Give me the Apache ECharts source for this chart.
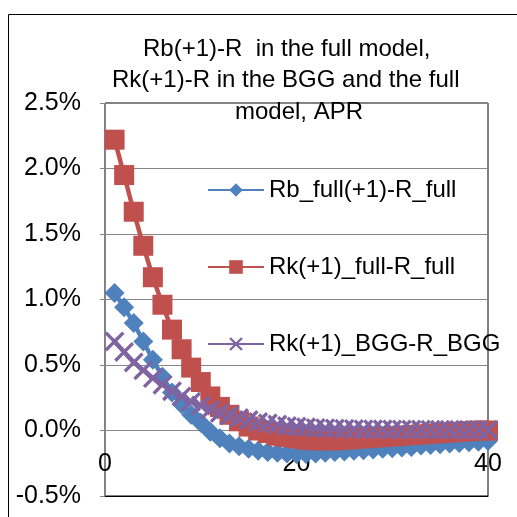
<!DOCTYPE html>
<html>
<head>
<meta charset="utf-8">
<script src="https://cdn.jsdelivr.net/npm/echarts@6/dist/echarts.min.js"></script>
<style>
html,body{margin:0;padding:0;background:#fff;}
#c{width:517px;height:517px;}
</style>
</head>
<body>
<div id="c"></div>
<script>
var titleLines = ['Rb(+1)-R  in the full model,', 'Rk(+1)-R in the BGG and the full', 'model, APR'];
var seriesNames = ['Rb_full(+1)-R_full', 'Rk(+1)_full-R_full', 'Rk(+1)_BGG-R_BGG'];
var periods = [1,2,3,4,5,6,7,8,9,10,11,12,13,14,15,16,17,18,19,20,21,22,23,24,25,26,27,28,29,30,31,32,33,34,35,36,37,38,39,40];
var rbFull = [1.05, 0.94, 0.82, 0.68, 0.54, 0.41, 0.29, 0.20, 0.12, 0.06, -0.01, -0.06, -0.10, -0.12, -0.14, -0.155, -0.165, -0.17, -0.175, -0.18, -0.18, -0.175, -0.17, -0.165, -0.16, -0.155, -0.15, -0.145, -0.14, -0.135, -0.13, -0.125, -0.115, -0.11, -0.105, -0.10, -0.095, -0.09, -0.085, -0.08];
var rkFull = [2.22, 1.95, 1.67, 1.41, 1.17, 0.96, 0.77, 0.62, 0.48, 0.37, 0.26, 0.18, 0.12, 0.07, 0.03, 0.00, -0.02, -0.04, -0.05, -0.06, -0.07, -0.075, -0.075, -0.075, -0.07, -0.065, -0.06, -0.055, -0.05, -0.045, -0.04, -0.035, -0.03, -0.025, -0.02, -0.015, -0.01, -0.005, 0.0, 0.0];
var rkBGG = [0.68, 0.60, 0.52, 0.46, 0.40, 0.35, 0.30, 0.26, 0.22, 0.19, 0.16, 0.135, 0.115, 0.095, 0.08, 0.065, 0.055, 0.045, 0.035, 0.03, 0.025, 0.02, 0.018, 0.015, 0.013, 0.012, 0.01, 0.01, 0.009, 0.008, 0.008, 0.007, 0.007, 0.006, 0.006, 0.005, 0.005, 0.005, 0.004, 0.004];
var yTicks = {min: -0.5, max: 2.5, interval: 0.5};
var xTicks = {min: 0, max: 40, interval: 20};

function pairs(ys){ return periods.map(function(x,i){ return [x, ys[i]]; }); }

var FONT = 'Liberation Sans, Arial, sans-serif';
var xMark = 'path://M0,1.2 L1.2,0 L5,3.8 L8.8,0 L10,1.2 L6.2,5 L10,8.8 L8.8,10 L5,6.2 L1.2,10 L0,8.8 L3.8,5 Z';

var chart = echarts.init(document.getElementById('c'), null, {renderer:'canvas'});
chart.setOption({
  animation: false,
  backgroundColor: '#fff',
  title: [
    {text: titleLines[0], left: 143, top: 37, padding: 0, textStyle: {fontFamily: FONT, fontSize: 24, fontWeight: 'normal', color: '#000', lineHeight: 24}},
    {text: titleLines[1], left: 112, top: 68, padding: 0, textStyle: {fontFamily: FONT, fontSize: 24, fontWeight: 'normal', color: '#000', lineHeight: 24}},
    {text: titleLines[2], left: 235, top: 100, padding: 0, textStyle: {fontFamily: FONT, fontSize: 24, fontWeight: 'normal', color: '#000', lineHeight: 24}}
  ],
  graphic: [{type: 'rect', shape: {x: 8.5, y: 14.5, width: 600, height: 600}, style: {fill: null, stroke: '#000', lineWidth: 1}, silent: true, z: 100}],
  legend: {
    orient: 'vertical', left: 207, top: 178, padding: 0,
    itemWidth: 56, itemHeight: 17, itemGap: 53,
    textStyle: {fontFamily: FONT, fontSize: 24, color: '#000', lineHeight: 24},
    data: seriesNames
  },
  grid: {left: 105, right: 29, top: 103, bottom: 21, show: true, borderColor: '#000', borderWidth: 1, backgroundColor: 'transparent', containLabel: false, outerBoundsMode: 'none'},
  xAxis: {
    type: 'value', min: xTicks.min, max: xTicks.max, interval: xTicks.interval,
    position: 'bottom',
    axisLine: {show: true, onZero: false, lineStyle: {color: '#000', width: 1}},
    axisTick: {show: false},
    axisLabel: {fontFamily: FONT, fontSize: 25, color: '#000', inside: true, margin: 19},
    splitLine: {show: false}
  },
  yAxis: {
    type: 'value', min: yTicks.min, max: yTicks.max, interval: yTicks.interval,
    axisLine: {show: true, lineStyle: {color: '#868686', width: 1}},
    axisTick: {show: true, length: 5, lineStyle: {color: '#868686'}},
    axisLabel: {fontFamily: FONT, fontSize: 25, color: '#000', margin: 24, formatter: function(v){ return v.toFixed(1) + '%'; }},
    splitLine: {show: true, lineStyle: {color: '#868686', width: 1}}
  },
  series: [
    {name: seriesNames[0], type: 'line', data: pairs(rbFull), symbol: 'diamond', symbolSize: 20,
     lineStyle: {color: '#4F81BD', width: 4.5}, itemStyle: {color: '#4F81BD'}},
    {name: seriesNames[1], type: 'line', data: pairs(rkFull), symbol: 'rect', symbolSize: 20,
     lineStyle: {color: '#C0504D', width: 4.5}, itemStyle: {color: '#C0504D'}},
    {name: seriesNames[2], type: 'line', data: pairs(rkBGG), symbol: xMark, symbolSize: 20,
     lineStyle: {color: '#8064A2', width: 4.5}, itemStyle: {color: '#8064A2'}}
  ]
});
</script>
</body>
</html>
